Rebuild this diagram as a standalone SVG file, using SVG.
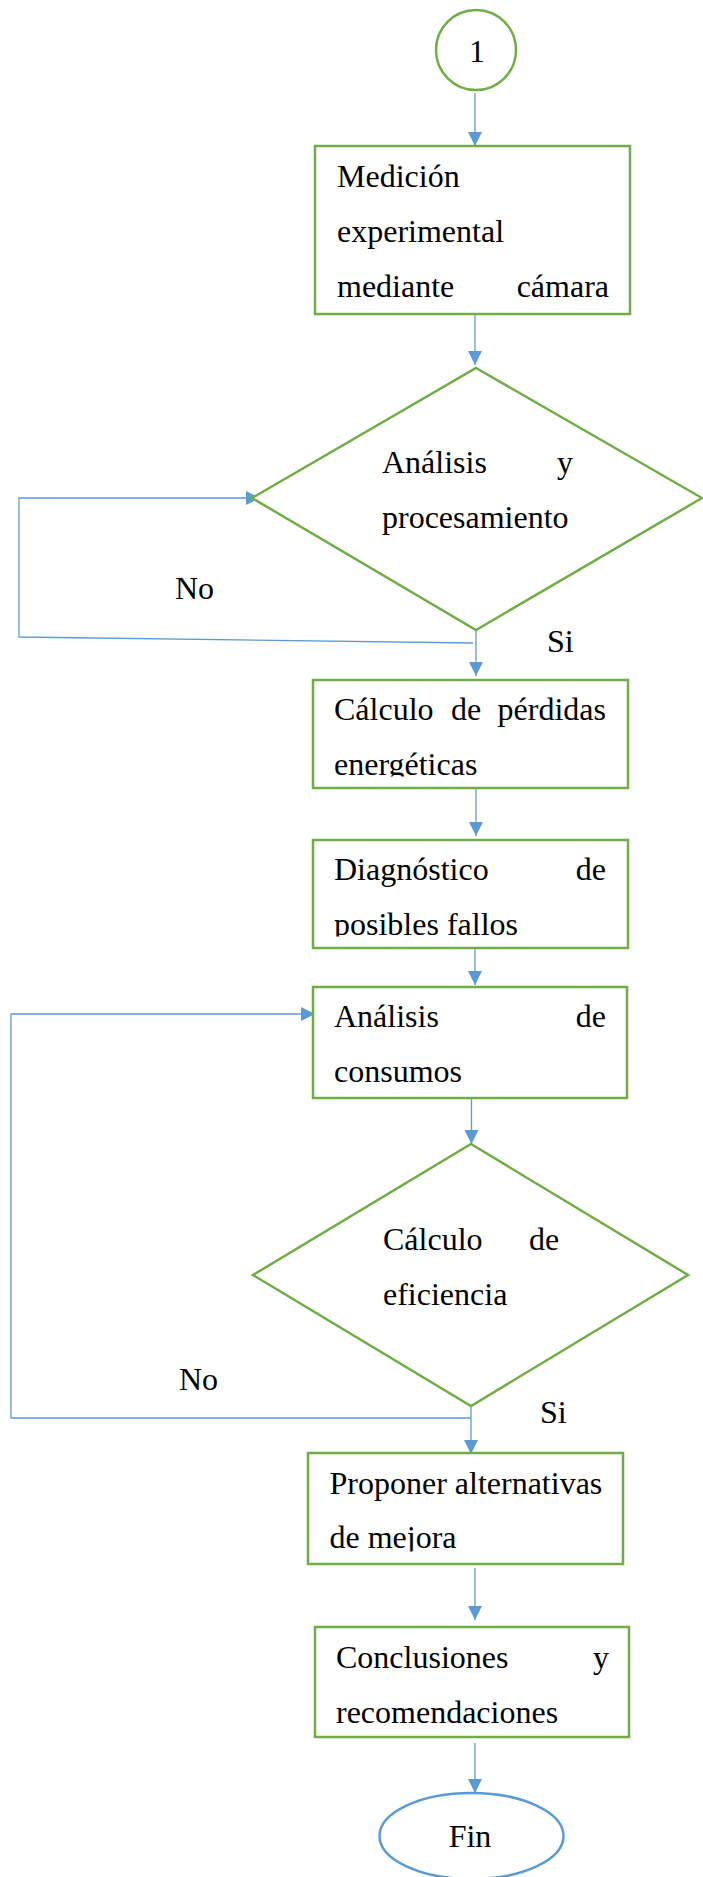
<svg xmlns="http://www.w3.org/2000/svg" width="703" height="1877" viewBox="0 0 703 1877">
  <style>
    .box { fill: #ffffff; stroke: #70AD47; stroke-width: 2.5; }
    .term { fill: #ffffff; stroke: #5B9BD5; stroke-width: 2.5; }
    .conn { fill: none; stroke: #5B9BD5; stroke-width: 1.3; }
    .arrow { marker-end: url(#head); }
    text { font-family: "Liberation Serif", "Times New Roman", serif; font-size: 32px; fill: #000000; }
    .end { text-anchor: end; }
    .mid { text-anchor: middle; }
  </style>
  <defs>
    <marker id="head" markerUnits="userSpaceOnUse" markerWidth="14" markerHeight="14" refX="14" refY="7" orient="auto">
      <path d="M0,0 L14,7 L0,14 Z" fill="#5B9BD5"/>
    </marker>
    <!-- text areas are cut off a little above the lower border of each box -->
    <clipPath id="clip-perdidas"><rect x="313" y="680" width="315" height="96.5"/></clipPath>
    <clipPath id="clip-diagnostico"><rect x="313" y="840" width="315" height="96.5"/></clipPath>
    <clipPath id="clip-proponer"><rect x="308" y="1453" width="315" height="98.5"/></clipPath>
  </defs>

  <rect width="703" height="1877" fill="#ffffff"/>

  <!-- connectors -->
  <g id="connectors">
    <line class="conn arrow" x1="475" y1="93" x2="475" y2="146"/>
    <line class="conn arrow" x1="475" y1="314" x2="475" y2="365"/>
    <line class="conn arrow" x1="476" y1="630" x2="476" y2="676"/>
    <polyline class="conn arrow" points="473,643 19,637 19,498 260,498"/>
    <line class="conn arrow" x1="476" y1="785" x2="476" y2="836"/>
    <line class="conn arrow" x1="475" y1="948" x2="475" y2="985"/>
    <line class="conn arrow" x1="471.5" y1="1083" x2="471.5" y2="1144"/>
    <polyline class="conn arrow" points="471,1418 11,1418 11,1014 315,1014"/>
    <line class="conn arrow" x1="471" y1="1406" x2="471" y2="1454"/>
    <line class="conn arrow" x1="475" y1="1568" x2="475" y2="1620"/>
    <line class="conn arrow" x1="475" y1="1743" x2="475" y2="1793"/>
  </g>

  <!-- start connector -->
  <g id="node-start">
    <circle cx="476" cy="50" r="40" fill="#ffffff" stroke="#70AD47" stroke-width="2.5"/>
    <text class="mid" x="477" y="62">1</text>
  </g>

  <g id="node-medicion">
    <rect class="box" x="315" y="146" width="315" height="168"/>
    <text x="337" y="187">Medición</text>
    <text x="337" y="242">experimental</text>
    <text x="337" y="297">mediante</text>
    <text class="end" x="609" y="297">cámara</text>
  </g>

  <g id="node-analisis-procesamiento">
    <polygon class="box" points="476,368 702,498 476,630 252,498"/>
    <text x="382" y="473">Análisis</text>
    <text class="end" x="573" y="473">y</text>
    <text x="382" y="528">procesamiento</text>
  </g>

  <g id="labels-decision-1">
    <text x="175" y="599">No</text>
    <text x="547" y="652">Si</text>
  </g>

  <g id="node-perdidas">
    <rect class="box" x="313" y="680" width="315" height="108"/>
    <g clip-path="url(#clip-perdidas)">
      <text x="334" y="720">Cálculo</text>
      <text x="451" y="720">de</text>
      <text class="end" x="606" y="720">pérdidas</text>
      <text x="334" y="775">energéticas</text>
    </g>
  </g>

  <g id="node-diagnostico">
    <rect class="box" x="313" y="840" width="315" height="108"/>
    <g clip-path="url(#clip-diagnostico)">
      <text x="334" y="880">Diagnóstico</text>
      <text class="end" x="606" y="880">de</text>
      <text x="334" y="935">posibles fallos</text>
    </g>
  </g>

  <g id="node-consumos">
    <rect class="box" x="313" y="987" width="314" height="111"/>
    <text x="334" y="1027">Análisis</text>
    <text class="end" x="606" y="1027">de</text>
    <text x="334" y="1082">consumos</text>
  </g>

  <g id="node-eficiencia">
    <polygon class="box" points="471,1144 688,1275 471,1406 253,1275"/>
    <text x="383" y="1250">Cálculo</text>
    <text x="529" y="1250">de</text>
    <text x="383" y="1305">eficiencia</text>
  </g>

  <g id="labels-decision-2">
    <text x="179" y="1390">No</text>
    <text x="540" y="1423">Si</text>
  </g>

  <g id="node-alternativas">
    <rect class="box" x="308" y="1453" width="315" height="111"/>
    <g clip-path="url(#clip-proponer)">
      <text x="329.5" y="1494">Proponer alternativas</text>
      <text x="329.5" y="1548">de mejora</text>
    </g>
  </g>

  <g id="node-conclusiones">
    <rect class="box" x="315" y="1627" width="314" height="110"/>
    <text x="336" y="1668">Conclusiones</text>
    <text class="end" x="609" y="1668">y</text>
    <text x="336" y="1723">recomendaciones</text>
  </g>

  <g id="node-fin">
    <ellipse class="term" cx="471.5" cy="1836" rx="92" ry="43"/>
    <text class="mid" x="470" y="1847">Fin</text>
  </g>
</svg>
